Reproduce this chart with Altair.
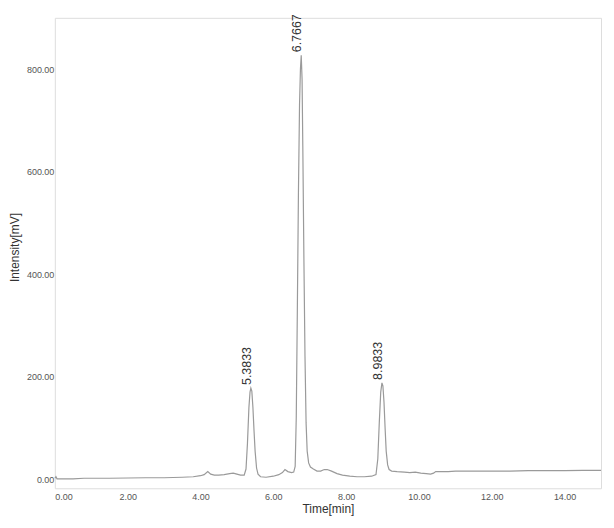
import altair as alt
import pandas as pd

# Chromatogram trace (time in min, intensity in mV)
time_min = [0.00, 0.03, 0.06, 0.10, 0.50, 0.80, 1.00, 1.50, 2.00, 2.50, 3.00, 3.50, 3.80, 4.00,
            4.10, 4.20, 4.28, 4.38, 4.50, 4.65, 4.80, 4.90, 5.00, 5.10, 5.20, 5.25, 5.29,
            5.33, 5.36, 5.3833, 5.41, 5.44, 5.47, 5.50, 5.54, 5.58, 5.65, 5.80, 6.00, 6.15,
            6.25, 6.32, 6.40, 6.50, 6.56, 6.60, 6.63, 6.66, 6.69, 6.72, 6.745, 6.7667, 6.79,
            6.81, 6.84, 6.87, 6.90, 6.93, 6.97, 7.02, 7.10, 7.20, 7.30, 7.40, 7.48, 7.60,
            7.75, 7.90, 8.10, 8.30, 8.50, 8.70, 8.82, 8.87, 8.91, 8.95, 8.9833, 9.01, 9.04,
            9.07, 9.10, 9.14, 9.18, 9.25, 9.40, 9.60, 9.75, 9.90, 10.05, 10.20, 10.32,
            10.40, 10.46, 10.55, 10.80, 11.00, 11.20, 11.50, 12.00, 12.50, 13.00, 13.50,
            14.00, 14.50, 15.00]
intensity_mv = [2, 5, 1, 1, 1, 2, 2, 2, 2.5, 3, 3, 4, 5, 7,
                9, 15, 10, 8, 8, 9, 11, 12, 10, 8, 8, 20, 70,
                140, 170, 178, 172, 140, 95, 55, 22, 10, 5, 4, 6, 9,
                13, 19, 15, 13, 14, 25, 120, 330, 560, 730, 800, 827, 780,
                650, 430, 240, 110, 55, 32, 24, 20, 16, 16, 19, 19, 16,
                11, 8, 6, 5, 5, 6, 9, 40, 110, 170, 188, 182, 150,
                100, 55, 28, 19, 16, 15, 14, 13, 14, 12, 11, 10,
                12, 15, 15, 15, 16, 16, 16, 16, 16, 17, 17,
                17, 17.5, 17.5]

# Peak annotations
peak_time = [5.3833, 6.7667, 8.9833]
peak_height = [178, 827, 188]
peak_label = ["5.3833", "6.7667", "8.9833"]

trace = pd.DataFrame({"t": time_min, "v": intensity_mv})
peaks = pd.DataFrame({"t": peak_time, "v": peak_height, "label": peak_label})

x_scale = alt.Scale(domain=[0, 15], nice=False, zero=False)
y_scale = alt.Scale(domain=[-17.5, 900], nice=False, zero=False)

x_axis = alt.Axis(values=[0, 2, 4, 6, 8, 10, 12, 14], format=".2f", title="Time[min]",
                  grid=False, ticks=False, domain=False, labelPadding=4, titlePadding=2,
                  labelFontSize=9, labelColor="#555555", titleFontSize=12,
                  titleColor="#333333", titleFontWeight="normal", labelFont="Liberation Sans",
                  titleFont="Liberation Sans")
y_axis = alt.Axis(values=[0, 200, 400, 600, 800], format=".2f", title="Intensity[mV]",
                  grid=False, ticks=False, domain=False, labelPadding=1,
                  titleX=-40, titleY=230, titleAngle=270, titleAlign="center",
                  titleBaseline="middle",
                  labelFontSize=9, labelColor="#555555", titleFontSize=12,
                  titleColor="#333333", titleFontWeight="normal", labelFont="Liberation Sans",
                  titleFont="Liberation Sans")

line = alt.Chart(trace).mark_line(color="#9a9a9a", strokeWidth=1.2).encode(
    x=alt.X("t:Q", scale=x_scale, axis=x_axis),
    y=alt.Y("v:Q", scale=y_scale, axis=y_axis),
)

labels = alt.Chart(peaks).mark_text(
    angle=270, align="left", baseline="alphabetic", dx=3, fontSize=12.5,
    color="#333333", font="Liberation Sans"
).encode(
    x=alt.X("t:Q", scale=x_scale),
    y=alt.Y("v:Q", scale=y_scale),
    text="label:N",
)

chart = (line + labels).properties(
    width=548, height=472,
    autosize=alt.AutoSizeParams(type="none"),
    padding={"left": 47, "top": 9, "right": 5, "bottom": 40},
).configure_view(stroke="#b0b0b0", strokeWidth=1.2).configure(background="white")

chart.save("out.html", embed_options={"renderer": "svg", "actions": False})
